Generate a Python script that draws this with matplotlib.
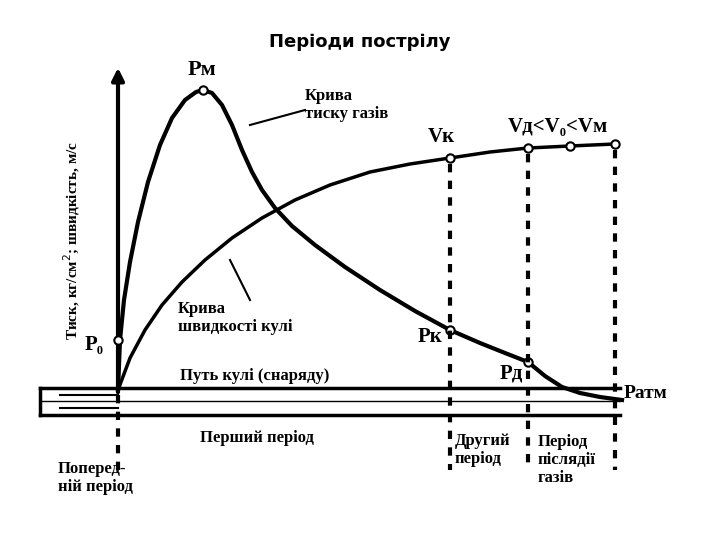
import matplotlib.pyplot as plt
from matplotlib.patches import FancyArrowPatch

# Curves (pixel coordinates, y downward)
pressure_x = [118, 120, 124, 130, 138, 148, 160, 172, 185, 196, 203, 212, 222, 232, 242, 252, 262, 275,
              292, 315, 345, 380, 415, 450, 480, 505, 528, 545, 562, 580, 600, 622]
pressure_y = [390, 340, 300, 262, 222, 182, 145, 118, 100, 92, 90, 93, 105, 125, 150, 172, 190, 208,
              226, 245, 267, 290, 311, 330, 343, 353, 362, 376, 387, 393, 397, 400]
speed_x = [118, 130, 145, 162, 182, 205, 232, 262, 295, 330, 370, 410, 450, 490, 528, 570, 615]
speed_y = [390, 358, 330, 305, 282, 260, 238, 218, 200, 185, 172, 164, 158, 152, 148, 146, 144]
marks = [(450, 158), (528, 148), (570, 146), (615, 144), (203, 90), (118, 340), (450, 330), (528, 362)]
dashed_x = [(450, 158), (528, 148), (615, 144)]

fig = plt.figure(figsize=(7.2, 5.4), dpi=100)
ax = fig.add_axes([0, 0, 1, 1])
ax.set_xlim(0, 720)
ax.set_ylim(540, 0)
ax.axis('off')

ax.text(360, 42, 'Періоди пострілу', ha='center', va='center', fontsize=13, fontweight='bold')

# vertical axis
ax.add_patch(FancyArrowPatch((118, 395), (118, 65), arrowstyle='-|>', mutation_scale=18, lw=3, color='black'))
ax.text(72, 240, 'Тиск, кг/см$^2$; швидкість, м/с', rotation=90, ha='center', va='center',
        fontsize=11, family='Liberation Serif', fontweight='bold')

ax.plot(pressure_x, pressure_y, color='black', lw=3, solid_joinstyle='round')
ax.plot(speed_x, speed_y, color='black', lw=2.5, solid_joinstyle='round')
for x, y in marks:
    ax.plot(x, y, 'o', ms=6, mfc='white', mec='black', mew=1.5)
for x, y in dashed_x:
    ax.plot([x, x], [y + 6, 470], color='black', lw=3, ls=(0, (2, 2)))
ax.plot([118, 118], [395, 470], color='black', lw=3, ls=(0, (2, 2)))

# barrel
ax.plot([40, 620], [388, 388], color='black', lw=2.5)
ax.plot([40, 620], [415, 415], color='black', lw=2.5)
ax.plot([40, 40], [388, 415], color='black', lw=2.5)
ax.plot([40, 620], [401, 401], color='black', lw=1)
ax.plot([60, 118], [395, 395], color='black', lw=1.5)
ax.plot([60, 118], [408, 408], color='black', lw=1.5)

serif = dict(family='Liberation Serif', fontweight='bold', color='black')
ax.text(188, 75, 'Pм', fontsize=16, **serif)
ax.text(305, 105, 'Крива\nтиску газів', fontsize=12, va='center', **serif)
ax.plot([250, 305], [125, 110], color='black', lw=1.5)
ax.text(428, 142, 'Vк', fontsize=15, **serif)
ax.text(508, 132, 'Vд<V₀<Vм', fontsize=15, **serif)
ax.text(178, 318, 'Крива\nшвидкості кулі', fontsize=12, va='center', **serif)
ax.plot([230, 250], [260, 300], color='black', lw=1.5)
ax.text(85, 350, 'P₀', fontsize=15, **serif)
ax.text(418, 342, 'Pк', fontsize=15, **serif)
ax.text(500, 378, 'Pд', fontsize=15, **serif)
ax.text(624, 398, 'Pатм', fontsize=14, **serif)
ax.text(180, 380, 'Путь кулі (снаряду)', fontsize=12, **serif)
ax.text(200, 442, 'Перший період', fontsize=12, **serif)
ax.text(455, 450, 'Другий\nперіод', fontsize=12, va='center', **serif)
ax.text(538, 460, 'Період\nпіслядії\nгазів', fontsize=12, va='center', ha='left', **serif)
ax.text(58, 478, 'Поперед-\nній період', fontsize=12, va='center', **serif)

fig.savefig('out.png', dpi=100)
